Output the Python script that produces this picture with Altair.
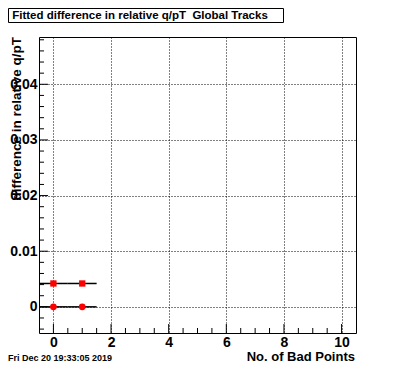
import altair as alt
import pandas as pd
import numpy as np

# ---- data ----
bad_points = [0, 1]
series_circle = [0.0, 0.0]          # red circles
series_square = [0.0042, 0.0042]    # red squares
x_half_width = [0.5, 0.5]           # horizontal error bars
x_tick_values = [0, 2, 4, 6, 8, 10]
y_tick_values = [0, 0.01, 0.02, 0.03, 0.04]
x_domain = [-0.5, 10.5]
y_domain = [-0.0047, 0.0485]

title_text = "Fitted difference in relative q/pT\u00a0 Global Tracks"
x_title = "No. of Bad Points"
y_title = "difference in relative q/pT"
date_text = "Fri Dec 20 19:33:05 2019"

FONT = "Liberation Sans"
W, H = 317, 296

def with_err(xv, yv, ev):
    return pd.DataFrame({"x": xv, "y": yv,
                         "lo": [b - e for b, e in zip(xv, ev)],
                         "hi": [b + e for b, e in zip(xv, ev)]})

df_c = with_err(bad_points, series_circle, x_half_width)
df_s = with_err(bad_points, series_square, x_half_width)

xs = alt.Scale(domain=x_domain, nice=False, zero=False)
ys = alt.Scale(domain=y_domain, nice=False, zero=False)

x_axis = alt.Axis(values=x_tick_values, grid=True, gridColor="black", gridDash=[1, 2],
                  gridWidth=1, gridOpacity=1, ticks=False, domain=False,
                  labelFont=FONT, labelFontSize=14, labelFontWeight="bold",
                  labelColor="black", labelPadding=2, labelFlush=False, title=None)
y_axis = alt.Axis(values=y_tick_values, format=".2~f", grid=True, gridColor="black",
                  gridDash=[1, 2], gridWidth=1, gridOpacity=1, ticks=False, domain=False,
                  labelFont=FONT, labelFontSize=14, labelFontWeight="bold",
                  labelColor="black", labelPadding=2, labelFlush=False, title=None)

def X(f):
    return alt.X(f, scale=xs, axis=x_axis)

def Y(f):
    return alt.Y(f, scale=ys, axis=y_axis)

err_c = alt.Chart(df_c).mark_rule(color="black", strokeWidth=1.5).encode(
    x=X("lo:Q"), x2="hi:Q", y=Y("y:Q"))
err_s = alt.Chart(df_s).mark_rule(color="black", strokeWidth=1.5).encode(
    x=X("lo:Q"), x2="hi:Q", y=Y("y:Q"))
pts_c = alt.Chart(df_c).mark_point(shape="circle", filled=True, color="#ff0000",
                                   size=45, opacity=1).encode(x=X("x:Q"), y=Y("y:Q"))
pts_s = alt.Chart(df_s).mark_square(color="#ff0000", size=40, opacity=1).encode(
    x=X("x:Q"), y=Y("y:Q"))

# ---- inward tick marks (ROOT style) ----
y_minor = [v for v in np.round(np.arange(-0.004, 0.0481, 0.002), 4) if round(v * 100, 6) % 1 != 0]
x_minor = [v for v in np.arange(0, 10.01, 0.5) if v not in x_tick_values]
ytm = alt.Chart(pd.DataFrame({"y": y_tick_values})).mark_rule(color="black").encode(
    y=Y("y:Q"), x=alt.value(0), x2=alt.value(9))
ytn = alt.Chart(pd.DataFrame({"y": y_minor})).mark_rule(color="black").encode(
    y=Y("y:Q"), x=alt.value(0), x2=alt.value(5))
xtm = alt.Chart(pd.DataFrame({"x": x_tick_values})).mark_rule(color="black").encode(
    x=X("x:Q"), y=alt.value(H), y2=alt.value(H - 9))
xtn = alt.Chart(pd.DataFrame({"x": x_minor})).mark_rule(color="black").encode(
    x=X("x:Q"), y=alt.value(H), y2=alt.value(H - 5))

one = pd.DataFrame({"a": [0]})
title_box = alt.Chart(one).mark_rect(fill="white", stroke="black", strokeWidth=1).encode(
    x=alt.value(-30.5), x2=alt.value(244.5), y=alt.value(-28.5), y2=alt.value(-14.5))
title_t = alt.Chart(one).mark_text(font=FONT, fontSize=11.5, fontWeight="bold",
                                   align="center", baseline="middle", color="black").encode(
    x=alt.value(101), y=alt.value(-21.5), text=alt.value(title_text))
xt = alt.Chart(one).mark_text(font=FONT, fontSize=13, fontWeight="bold",
                              align="right", baseline="alphabetic", color="black").encode(
    x=alt.value(316), y=alt.value(324), text=alt.value(x_title))
yt = alt.Chart(one).mark_text(font=FONT, fontSize=13.5, fontWeight="bold", angle=270,
                              align="right", baseline="alphabetic", color="black").encode(
    x=alt.value(-18), y=alt.value(0), text=alt.value(y_title))
dt = alt.Chart(one).mark_text(font=FONT, fontSize=9, fontWeight="bold",
                              align="left", baseline="alphabetic", color="black").encode(
    x=alt.value(-31), y=alt.value(324), text=alt.value(date_text))

chart = alt.layer(err_c, err_s, pts_c, pts_s, ytm, ytn, xtm, xtn,
                  title_box, title_t, xt, yt, dt).properties(
    width=W, height=H,
    autosize=alt.AutoSizeParams(type="none"),
    padding={"left": 31, "top": 29, "right": 32, "bottom": 31},
    background="white",
).configure_view(stroke="black", strokeWidth=1)

chart.save("out.html", embed_options={"renderer": "svg", "actions": False})
